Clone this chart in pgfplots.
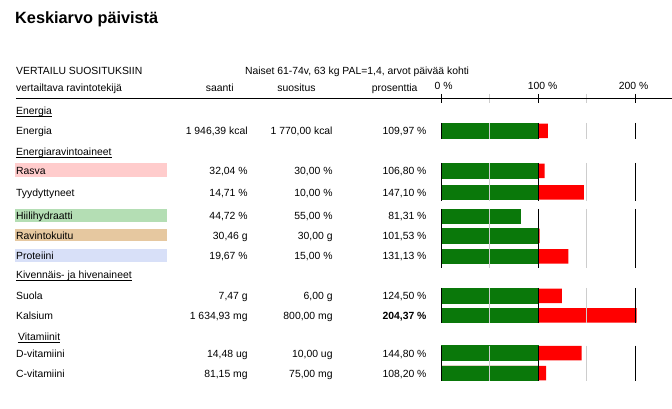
\documentclass[border=0pt]{standalone}
\usepackage{pgfplots}
\pgfplotsset{compat=1.18}
\usepackage{fontspec}
\setmainfont{Liberation Sans}
\definecolor{bargreen}{RGB}{10,120,10}
\definecolor{barred}{RGB}{255,0,0}
\definecolor{bgpink}{RGB}{255,204,204}
\definecolor{bggreen}{RGB}{180,222,180}
\definecolor{bgtan}{RGB}{230,200,160}
\definecolor{bgblue}{RGB}{216,224,248}
\definecolor{gridgray}{RGB}{205,205,205}
\begin{document}
\begin{tikzpicture}
\begin{axis}[at={(0,0)}, anchor=north west, scale only axis,
  width=672pt, height=409pt,
  xmin=-454.0, xmax=237.3, ymin=0, ymax=409, y dir=reverse,
  hide axis, enlargelimits=false, clip=false, unbounded coords=jump]
% full percentage (red part shows above 100 %)
\addplot[xbar, bar width=14.5, bar shift=0pt, fill=barred, draw=none] coordinates {
 (109.97,131) (106.80,171) (147.10,192.5) (81.31,216.5) (101.53,236)
 (131.13,256.5) (124.50,296) (201.3,315.5) (144.80,353.3) (108.20,373.5)};
% green part up to 100 %
\addplot[xbar, bar width=14.5, bar shift=0pt, fill=bargreen, draw=bargreen, line width=0.6pt] coordinates {
 (100,131) (100,171) (100,192.5) (81.31,216.5) (100,236)
 (100,256.5) (100,296) (100,315.5) (100,353.3) (100,373.5)};
% grid segments
\addplot[gridgray, line width=1pt, no marks, forget plot] coordinates {
 (50,94) (50,103) (nan,nan) (150,94) (150,103) (nan,nan)
 (50,123) (50,139) (nan,nan) (50,163) (50,201) (nan,nan) (50,209) (50,268) (nan,nan)
 (50,288) (50,323) (nan,nan) (50,346) (50,381) (nan,nan)
 (150,123) (150,139) (nan,nan) (150,163) (150,201) (nan,nan) (150,209) (150,268) (nan,nan)
 (150,288) (150,323) (nan,nan) (150,346) (150,381)};
\addplot[black, line width=1pt, no marks, forget plot] coordinates {
 (0,94) (0,103) (nan,nan) (100,94) (100,103) (nan,nan) (200,94) (200,103) (nan,nan)
 (0,123) (0,139) (nan,nan) (0,163) (0,201) (nan,nan) (0,209) (0,268) (nan,nan)
 (0,288) (0,323) (nan,nan) (0,346) (0,381) (nan,nan)
 (100,123) (100,139) (nan,nan) (100,163) (100,201) (nan,nan) (100,209) (100,268) (nan,nan)
 (100,288) (100,323) (nan,nan) (100,346) (100,381) (nan,nan)
 (200,123) (200,139) (nan,nan) (200,163) (200,201) (nan,nan) (200,209) (200,268) (nan,nan)
 (200,288) (200,323) (nan,nan) (200,346) (200,381)};
\end{axis}
\begin{scope}[x=1pt, y=-1pt,
  L/.style={anchor=base west, inner sep=0pt},
  R/.style={anchor=base east, inner sep=0pt},
  C/.style={anchor=base, inner sep=0pt},
  every node/.append style={font=\fontsize{10.4}{12}\selectfont}]
\path (0,0) rectangle (672,409);
% label backgrounds
\fill[bgpink]  (15,163.3) rectangle (167,177.5);
\fill[bggreen] (15,209.3) rectangle (167,221.8);
\fill[bgtan]   (15,229.3) rectangle (167,241.0);
\fill[bgblue]  (15,249.3) rectangle (167,261.8);
% title
\node[L, font=\fontsize{16.3}{19}\selectfont\bfseries] at (15,23.5) {Keskiarvo päivistä};
\node[L] at (16,75) {VERTAILU SUOSITUKSIIN};
\node[L] at (245,75) {Naiset 61-74v, 63 kg PAL=1,4, arvot päivää kohti};
\node[L] at (16,92) {vertailtava ravintotekijä};
\node[R] at (234,92) {saanti};
\node[R] at (316,92) {suositus};
\node[R] at (418,92) {prosenttia};
\node[C] at (444,90) {0 \%};
\node[C] at (543,90) {100 \%};
\node[C] at (634,90) {200 \%};
\draw[black, line width=1pt] (16,99) -- (672,99);
% section headers (underlined)
\node[L] (h1) at (16,115) {Energia};
\node[L] (h2) at (16,156) {Energiaravintoaineet};
\node[L] (h3) at (16,279) {Kivennäis- ja hivenaineet};
\node[L] (h4) at (18,341) {Vitamiinit};
\foreach \h in {h1,h2,h3,h4}
  \draw[black, line width=0.8pt] ([yshift=-1.8pt]\h.base west) -- ([yshift=-1.8pt]\h.base east);
% rows
\node[L] at (16,135) {Energia};
\node[R] at (248,135) {1 946,39 kcal};
\node[R] at (333,135) {1 770,00 kcal};
\node[R] at (427,135) {109,97 \%};
\node[L] at (16,175) {Rasva};
\node[R] at (248,175) {32,04 \%};
\node[R] at (333,175) {30,00 \%};
\node[R] at (427,175) {106,80 \%};
\node[L] at (16,196.5) {Tyydyttyneet};
\node[R] at (248,196.5) {14,71 \%};
\node[R] at (333,196.5) {10,00 \%};
\node[R] at (427,196.5) {147,10 \%};
\node[L] at (16,220) {Hiilihydraatti};
\node[R] at (248,220) {44,72 \%};
\node[R] at (333,220) {55,00 \%};
\node[R] at (427,220) {81,31 \%};
\node[L] at (16,240) {Ravintokuitu};
\node[R] at (248,240) {30,46 g};
\node[R] at (333,240) {30,00 g};
\node[R] at (427,240) {101,53 \%};
\node[L] at (16,260) {Proteiini};
\node[R] at (248,260) {19,67 \%};
\node[R] at (333,260) {15,00 \%};
\node[R] at (427,260) {131,13 \%};
\node[L] at (16,300) {Suola};
\node[R] at (248,300) {7,47 g};
\node[R] at (333,300) {6,00 g};
\node[R] at (427,300) {124,50 \%};
\node[L] at (16,319.5) {Kalsium};
\node[R] at (248,319.5) {1 634,93 mg};
\node[R] at (333,319.5) {800,00 mg};
\node[R] at (427,319.5) {\bfseries 204,37 \%};
\node[L] at (16,357.3) {D-vitamiini};
\node[R] at (248,357.3) {14,48 ug};
\node[R] at (333,357.3) {10,00 ug};
\node[R] at (427,357.3) {144,80 \%};
\node[L] at (16,377.5) {C-vitamiini};
\node[R] at (248,377.5) {81,15 mg};
\node[R] at (333,377.5) {75,00 mg};
\node[R] at (427,377.5) {108,20 \%};
\end{scope}
\end{tikzpicture}
\end{document}
